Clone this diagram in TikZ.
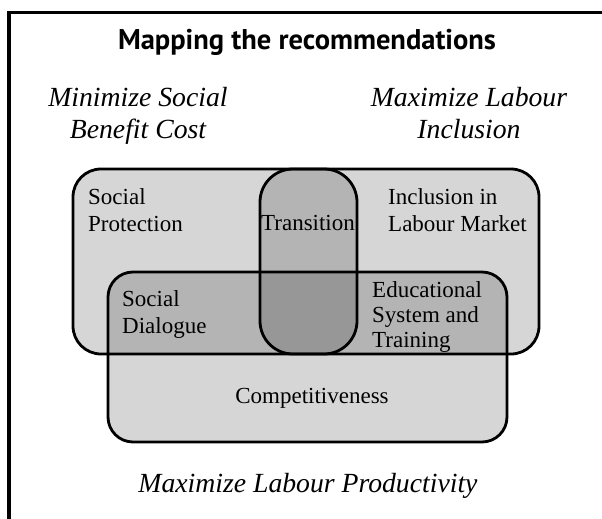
\documentclass[tikz,border=0pt]{standalone}
\usepackage{fontspec}
\setmainfont{Liberation Serif}
\newfontfamily\headfont{PT Sans}
\usetikzlibrary{positioning}

\begin{document}
\begin{tikzpicture}[x=1pt,y=-1pt,
		area/.style={draw=black,line width=2.8pt,fill=black,fill opacity=0.16,draw opacity=1,inner sep=0pt},
		txt/.style={font=\fontsize{23}{27}\selectfont,align=left,inner sep=0pt},
		aim/.style={font=\fontsize{27.7}{32}\selectfont\itshape,align=center,inner sep=0pt}]

	\useasboundingbox (0,0) rectangle (602,519);
	\draw[line width=3.5pt] (9,530) -- (9,12.5) -- (612,12.5);

	\node[area,rounded corners=28pt,minimum width=466pt,minimum height=185pt] (labour) at (306,261.5) {};
	\node[area,rounded corners=33pt,minimum width=97pt,minimum height=185pt] (transbox) at (308.5,261.5) {};
	\node[area,rounded corners=25pt,minimum width=399pt,minimum height=170pt] (prodbox) at (307.5,357) {};

	\node[anchor=base,inner sep=0pt,font=\headfont\bfseries\fontsize{28.5}{32}\selectfont] (title) at (307,50) {Mapping the recommendations};

	\node[aim,anchor=base] (mincost) at (138,138) {Minimize Social\\Benefit Cost};
	\node[aim,anchor=base] (maxincl) at (469,138) {Maximize Labour\\Inclusion};
	\node[aim,anchor=base] (maxprod) at (308,492) {Maximize Labour Productivity};

	\node[txt,anchor=base west] (socprot) at (88,231) {Social\\Protection};
	\node[txt,anchor=base west] (inclab) at (388,231) {Inclusion in\\Labour Market};
	\node[txt,anchor=base] (trans) at (308,230) {Transition};
	\node[txt,anchor=base west] (socdia) at (122,333) {Social\\Dialogue};
	\node[txt,anchor=base west,font=\fontsize{23}{25}\selectfont] (edu) at (372,347) {Educational\\System and\\Training};
	\node[txt,anchor=base] (comp) at (312,403) {Competitiveness};

\end{tikzpicture}
\end{document}
